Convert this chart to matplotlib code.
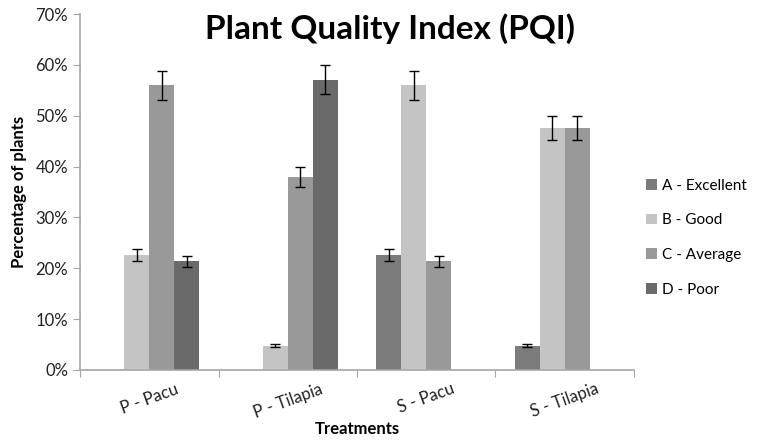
import numpy as np
import matplotlib.pyplot as plt

plt.rcParams['font.family'] = ['Lato', 'DejaVu Sans']

treatments = ["P - Pacu", "P - Tilapia", "S - Pacu", "S - Tilapia"]
grades = ["A - Excellent", "B - Good", "C - Average", "D - Poor"]

a_vals = [0, 0, 22.6, 4.8]
b_vals = [22.6, 4.8, 56.0, 47.6]
c_vals = [56.0, 38.0, 21.4, 47.6]
d_vals = [21.4, 57.1, 0, 0]

a_err = [0, 0, 1.1, 0.2]
b_err = [1.1, 0.2, 2.8, 2.4]
c_err = [2.8, 2.0, 1.1, 2.4]
d_err = [1.1, 2.9, 0, 0]

colors = ["#7b7b7b", "#c4c4c4", "#999999", "#6a6a6a"]
axis_col = "#a6a6a6"

fig = plt.figure(figsize=(7.62, 4.43), dpi=100)
ax = fig.add_axes([0.105, 0.165, 0.727, 0.803])

x = np.arange(len(treatments))
w = 0.18
series = [a_vals, b_vals, c_vals, d_vals]
errs = [a_err, b_err, c_err, d_err]
for i, (vals, err) in enumerate(zip(series, errs)):
    pos = x + (i - 1.5) * w
    ax.bar(pos, vals, w, color=colors[i], label=grades[i])
    for p, v, e in zip(pos, vals, err):
        if v > 0:
            ax.errorbar(p, v, yerr=e, color="black", capsize=3.5,
                        elinewidth=1, capthick=1)

ax.set_xlim(-0.5, 3.5)
ax.set_ylim(0, 70)
ax.set_yticks(range(0, 71, 10))
ax.set_yticklabels([f"{t}%" for t in range(0, 71, 10)], fontsize=12, color="#222222")
ax.set_xticks(np.arange(-0.5, 4, 1))
ax.set_xticklabels([])
ax.set_xticks(x, minor=True)
ax.set_xticklabels(treatments, minor=True, rotation=20, fontsize=12, color="#222222")
ax.tick_params(axis="x", which="minor", length=0, pad=8)
ax.tick_params(axis="x", which="major", length=5, color=axis_col)
ax.tick_params(axis="y", length=5, color=axis_col)

for s in ["top", "right"]:
    ax.spines[s].set_visible(False)
for s in ["left", "bottom"]:
    ax.spines[s].set_color(axis_col)
    ax.spines[s].set_linewidth(1.2)

ax.set_ylabel("Percentage of plants", fontsize=12, fontweight="bold", labelpad=6)
ax.set_xlabel("Treatments", fontsize=12, fontweight="bold", labelpad=0)
fig.text(0.512, 0.935, "Plant Quality Index (PQI)", ha="center", va="center",
         fontsize=24, fontweight="bold")

ax.legend(loc="center left", bbox_to_anchor=(1.005, 0.372), frameon=False,
          fontsize=11, handlelength=0.7, handleheight=0.7, labelspacing=1.35,
          handletextpad=0.35, borderaxespad=0.2)

fig.savefig("out.png", dpi=100)
